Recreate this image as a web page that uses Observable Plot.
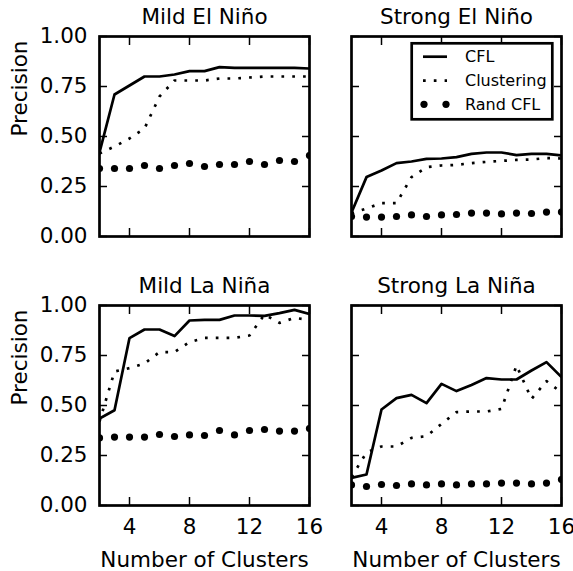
<!DOCTYPE html>
<html>
<head>
<meta charset="utf-8">
<script src="https://cdn.jsdelivr.net/npm/d3@7"></script>
<script src="https://cdn.jsdelivr.net/npm/@observablehq/plot@0.6"></script>
<style>
  html, body { margin: 0; padding: 0; background: white; }
  #chart { position: relative; width: 573px; height: 571px; overflow: hidden; font-family: "DejaVu Sans", sans-serif; }
  #chart > svg { position: absolute; }
</style>
</head>
<body>
<div id="chart"></div>
<script>
// ---- data ----
const clusters = [2, 3, 4, 5, 6, 7, 8, 9, 10, 11, 12, 13, 14, 15, 16];
const xTicks = [4, 8, 12, 16];
const yTicks = [0, 0.25, 0.5, 0.75, 1];
const panelTitles = ["Mild El Niño", "Strong El Niño", "Mild La Niña", "Strong La Niña"];
const seriesNames = ["CFL", "Clustering", "Rand CFL"];
const yLabel = "Precision";
const xLabel = "Number of Clusters";

const mildElNinoCFL   = [0.42, 0.71, 0.755, 0.80, 0.80, 0.81, 0.827, 0.827, 0.847, 0.843, 0.843, 0.843, 0.843, 0.843, 0.84];
const mildElNinoClust = [0.415, 0.45, 0.49, 0.54, 0.70, 0.78, 0.78, 0.78, 0.79, 0.79, 0.795, 0.80, 0.80, 0.80, 0.80];
const mildElNinoRand  = [0.34, 0.34, 0.34, 0.355, 0.34, 0.355, 0.365, 0.35, 0.36, 0.36, 0.375, 0.36, 0.38, 0.375, 0.405];

const strongElNinoCFL   = [0.12, 0.297, 0.33, 0.367, 0.375, 0.388, 0.39, 0.397, 0.413, 0.42, 0.42, 0.407, 0.413, 0.413, 0.405];
const strongElNinoClust = [0.115, 0.14, 0.167, 0.167, 0.297, 0.347, 0.355, 0.358, 0.367, 0.373, 0.378, 0.383, 0.385, 0.392, 0.39];
const strongElNinoRand  = [0.10, 0.097, 0.097, 0.10, 0.108, 0.10, 0.108, 0.11, 0.117, 0.117, 0.113, 0.117, 0.115, 0.122, 0.122];

const mildLaNinaCFL   = [0.435, 0.476, 0.837, 0.88, 0.88, 0.847, 0.925, 0.928, 0.928, 0.95, 0.95, 0.948, 0.962, 0.978, 0.957];
const mildLaNinaClust = [0.42, 0.67, 0.687, 0.71, 0.767, 0.767, 0.817, 0.838, 0.838, 0.838, 0.85, 0.955, 0.913, 0.938, 0.928];
const mildLaNinaRand  = [0.338, 0.342, 0.342, 0.342, 0.355, 0.345, 0.353, 0.35, 0.375, 0.353, 0.375, 0.38, 0.372, 0.372, 0.385];

const strongLaNinaCFL   = [0.138, 0.155, 0.48, 0.537, 0.553, 0.512, 0.608, 0.572, 0.603, 0.637, 0.63, 0.63, 0.675, 0.717, 0.642];
const strongLaNinaClust = [0.143, 0.265, 0.295, 0.295, 0.338, 0.347, 0.408, 0.467, 0.47, 0.47, 0.483, 0.70, 0.533, 0.622, 0.565];
const strongLaNinaRand  = [0.103, 0.095, 0.105, 0.10, 0.108, 0.103, 0.108, 0.103, 0.108, 0.108, 0.112, 0.112, 0.108, 0.112, 0.13];

// ---- drawing ----
const FS = 21.5;
const LW = 2.7;
const DOT = "2.7,8.1";
const chart = document.getElementById("chart");

function panel(title, cfl, clust, rand, col, row) {
  const rows = clusters.map((c, i) => ({c, cfl: cfl[i], clust: clust[i], rand: rand[i]}));
  const left = col === 0 ? 0 : 330;
  const top = row === 0 ? 0 : 270;
  const width = col === 0 ? 330 : 243;
  const height = row === 0 ? 270 : 301;
  const marginLeft = col === 0 ? 99 : 21;
  const marginRight = col === 0 ? 21 : 12;
  const marginTop = row === 0 ? 36 : 35;
  const marginBottom = row === 0 ? 34 : 66;
  const marks = [
    Plot.line(rows, {x: "c", y: "cfl", stroke: "black", strokeWidth: LW, strokeLinejoin: "round", strokeLinecap: "butt", clip: true}),
    Plot.line(rows, {x: "c", y: "clust", stroke: "black", strokeWidth: LW, strokeDasharray: DOT, strokeLinecap: "butt", clip: true}),
    Plot.dot(rows, {x: "c", y: "rand", r: 3.6, fill: "black", stroke: "none", clip: true}),
    Plot.axisX(xTicks, {anchor: "bottom", tickSize: -8, strokeWidth: 1.5, text: null, label: null}),
    Plot.axisX(xTicks, {anchor: "top", tickSize: -8, strokeWidth: 1.5, text: null, label: null}),
    Plot.axisY(yTicks, {anchor: "left", tickSize: -8, strokeWidth: 1.5, text: null, label: null}),
    Plot.axisY(yTicks, {anchor: "right", tickSize: -8, strokeWidth: 1.5, text: null, label: null}),
    Plot.frame({stroke: "black", strokeWidth: LW}),
    Plot.text([title], {text: d => d, frameAnchor: "top", lineAnchor: "bottom", dy: -13, fontSize: FS})
  ];
  if (row === 1) {
    marks.push(Plot.axisX(xTicks, {anchor: "bottom", tickSize: 0, tickPadding: 13, fontSize: FS, label: null}));
    marks.push(Plot.text([xLabel], {text: d => d, frameAnchor: "bottom", lineAnchor: "bottom", dy: 61, fontSize: FS}));
  }
  if (col === 0) {
    marks.push(Plot.axisY(yTicks, {anchor: "left", tickSize: 0, tickPadding: 12, fontSize: FS, tickFormat: d3.format(".2f"), label: null}));
    marks.push(Plot.text([yLabel], {text: d => d, frameAnchor: "left", rotate: -90, lineAnchor: "bottom", dx: -73, fontSize: FS}));
  }
  const svg = Plot.plot({
    width, height, marginLeft, marginRight, marginTop, marginBottom,
    style: {fontFamily: "DejaVu Sans, sans-serif", color: "black", background: "transparent", overflow: "visible"},
    x: {domain: [2, 16], label: null},
    y: {domain: [0, 1], label: null},
    marks
  });
  svg.style.left = left + "px";
  svg.style.top = top + "px";
  chart.appendChild(svg);
}

panel(panelTitles[0], mildElNinoCFL, mildElNinoClust, mildElNinoRand, 0, 0);
panel(panelTitles[1], strongElNinoCFL, strongElNinoClust, strongElNinoRand, 1, 0);
panel(panelTitles[2], mildLaNinaCFL, mildLaNinaClust, mildLaNinaRand, 0, 1);
panel(panelTitles[3], strongLaNinaCFL, strongLaNinaClust, strongLaNinaRand, 1, 1);

// ---- legend (inside Strong El Niño panel) ----
const lg = d3.select(chart).append("svg")
  .attr("width", 150).attr("height", 84)
  .style("left", "407px").style("top", "39px");
const ox = 407, oy = 39;
lg.append("rect")
  .attr("x", 411.7 - ox).attr("y", 43.3 - oy).attr("width", 140.6).attr("height", 76)
  .attr("fill", "white").attr("stroke", "black").attr("stroke-width", LW);
const rowY = [56.7, 80.7, 104.3];
seriesNames.forEach((name, i) => {
  const y = rowY[i] - oy;
  if (i === 0) {
    lg.append("line").attr("x1", 423 - ox).attr("x2", 447 - ox).attr("y1", y).attr("y2", y)
      .attr("stroke", "black").attr("stroke-width", LW);
  } else if (i === 1) {
    lg.append("line").attr("x1", 423 - ox).attr("x2", 447 - ox).attr("y1", y).attr("y2", y)
      .attr("stroke", "black").attr("stroke-width", LW).attr("stroke-dasharray", DOT);
  } else {
    [424, 446].forEach(cx => lg.append("circle").attr("cx", cx - ox).attr("cy", y).attr("r", 3.6).attr("fill", "black"));
  }
  lg.append("text").attr("x", 465 - ox).attr("y", y).attr("dy", "0.35em")
    .attr("font-family", "DejaVu Sans, sans-serif").attr("font-size", 16).attr("fill", "black")
    .text(name);
});
</script>
</body>
</html>
